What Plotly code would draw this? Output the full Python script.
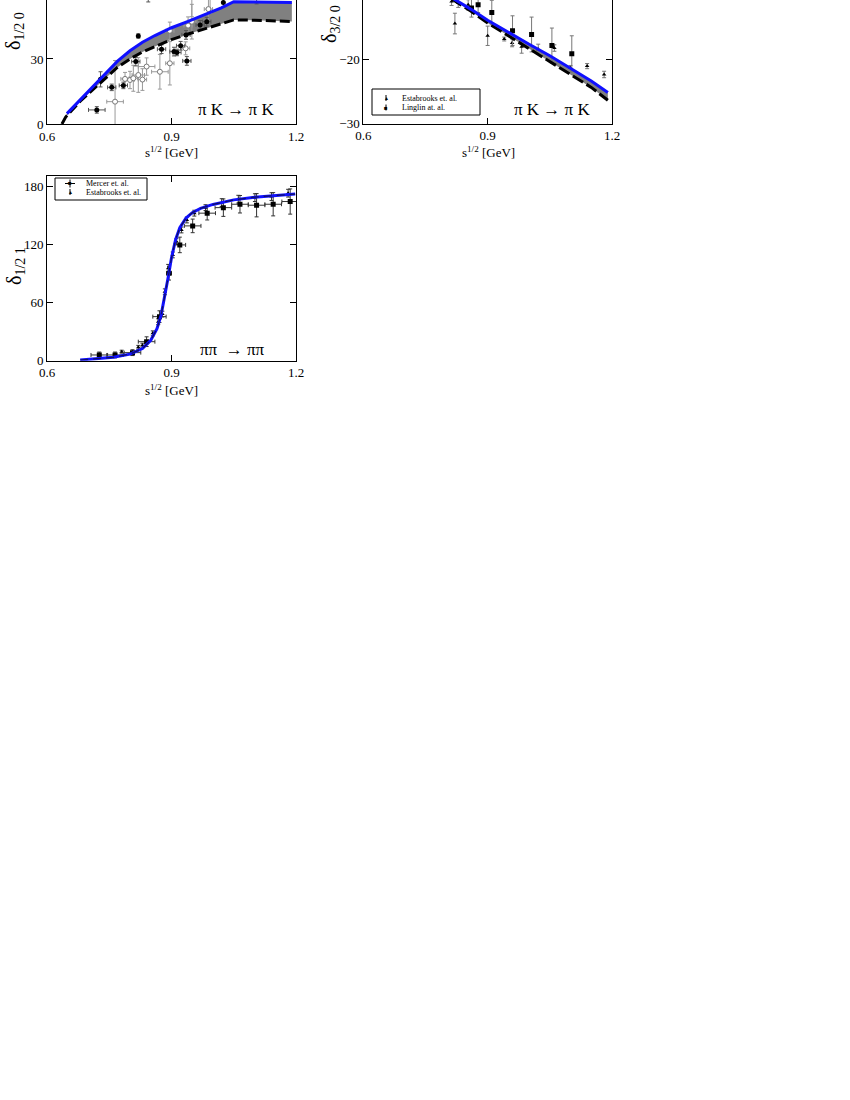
import plotly.graph_objects as go

# ============================================================
# Datos (tres paneles de desfasajes)
# ============================================================

ANCHO, ALTO = 850, 1100
SERIF = "Liberation Serif"

# --- Panel 1: delta 1/2 0, pi K -> pi K ---
P1_X_AZUL = [0.648, 0.68, 0.71, 0.74, 0.77, 0.80, 0.83, 0.86, 0.90, 0.94, 0.98, 1.02, 1.05, 1.10, 1.15, 1.19]
P1_Y_AZUL = [4.8, 11.2, 17.2, 23.2, 29.0, 33.8, 37.7, 40.8, 44.4, 47.3, 50.3, 53.6, 56.4, 56.4, 56.3, 56.1]
P1_X_DASH = [0.636, 0.645, 0.68, 0.71, 0.74, 0.77, 0.80, 0.83, 0.86, 0.90, 0.94, 0.98, 1.02, 1.05, 1.10, 1.15, 1.19]
P1_Y_DASH = [0.0, 3.2, 10.5, 15.8, 21.0, 26.2, 30.0, 33.2, 35.7, 38.9, 41.5, 43.9, 46.4, 48.0, 47.9, 47.6, 47.3]

P1_LLENOS_X = [0.720, 0.729, 0.756, 0.784, 0.814, 0.820, 0.876, 0.906, 0.913, 0.922, 0.937, 0.935, 0.969, 0.985, 1.025, 0.844, 1.105]
P1_LLENOS_Y = [6.5, 20.6, 16.9, 17.8, 28.8, 40.6, 34.5, 33.4, 33.0, 36.1, 29.1, 41.1, 45.7, 47.2, 56.0, 60.5, 59.0]
P1_LLENOS_EX = [0.02, 0.0, 0.01, 0.01, 0.01, 0.0, 0.01, 0.01, 0.01, 0.01, 0.01, 0.01, 0.01, 0.01, 0.0, 0.0, 0.0]
P1_LLENOS_EY = [1.5, 3.5, 1.5, 1.5, 2.0, 1.0, 2.0, 2.0, 1.5, 2.0, 2.0, 2.0, 2.0, 2.0, 2.0, 4.2, 3.6]

P1_ABIERTOS_X = [0.764, 0.788, 0.800, 0.808, 0.820, 0.830, 0.840, 0.872, 0.896, 0.896, 0.934, 0.940, 0.949, 0.989, 0.949, 0.993]
P1_ABIERTOS_Y = [10.3, 20.8, 20.3, 21.1, 22.6, 20.5, 26.5, 24.1, 28.0, 43.0, 34.9, 45.4, 47.2, 53.0, 62.0, 64.0]
P1_ABIERTOS_EX = [0.02, 0.01, 0.01, 0.01, 0.015, 0.01, 0.02, 0.02, 0.01, 0.01, 0.01, 0.01, 0.01, 0.01, 0.0, 0.0]
P1_ABIERTOS_EY = [19.0, 3.0, 4.0, 6.0, 8.0, 5.0, 4.0, 8.0, 10.0, 4.0, 3.0, 4.0, 8.0, 6.0, 12.5, 13.0]

# --- Panel 2: delta 3/2 0, pi K -> pi K ---
P2_X_AZUL = [0.78, 0.82, 0.86, 0.90, 0.95, 1.00, 1.05, 1.10, 1.15, 1.19]
P2_Y_AZUL = [-9.2, -10.7, -12.3, -14.0, -15.9, -17.7, -19.5, -21.4, -23.4, -25.2]
P2_X_DASH = [0.78, 0.82, 0.86, 0.90, 0.95, 1.00, 1.05, 1.10, 1.15, 1.19]
P2_Y_DASH = [-9.3, -10.9, -12.6, -14.4, -16.4, -18.4, -20.3, -22.4, -24.4, -26.4]

P2_ESTAB_X = [0.813, 0.821, 0.829, 0.853, 0.900, 0.940, 0.959, 0.982, 1.022, 1.061, 1.100, 1.140, 1.181]
P2_ESTAB_Y = [-11.1, -14.5, -11.3, -11.6, -16.4, -16.9, -17.5, -18.1, -18.5, -18.3, -21.4, -21.1, -22.4]
P2_ESTAB_EY = [0.6, 1.6, 0.7, 0.8, 1.5, 0.3, 0.6, 1.0, 0.8, 0.5, 0.4, 0.4, 0.5]

P2_LING_X = [0.861, 0.877, 0.910, 0.960, 1.006, 1.055, 1.103]
P2_LING_Y = [-12.1, -11.6, -12.8, -15.6, -16.2, -17.9, -19.2]
P2_LING_EY = [1.4, 1.2, 1.9, 2.3, 2.7, 2.7, 2.8]

# --- Panel 3: delta 1/2 1, pi pi -> pi pi ---
P3_X_CURVA = [0.68, 0.72, 0.76, 0.80, 0.83, 0.85, 0.865, 0.875, 0.885, 0.892, 0.90, 0.91, 0.92, 0.935, 0.95, 0.97, 1.00, 1.05, 1.10, 1.15, 1.198]
P3_Y_CURVA = [0.7, 1.8, 3.5, 6.8, 12.5, 21.0, 33.0, 47.0, 68.0, 86.0, 106.0, 125.0, 137.0, 147.0, 152.5, 157.0, 161.0, 165.7, 168.5, 170.3, 171.7]

P3_MERCER_X = [0.726, 0.764, 0.806, 0.840, 0.871, 0.894, 0.920, 0.951, 0.986, 1.025, 1.065, 1.105, 1.145, 1.186]
P3_MERCER_Y = [5.9, 5.9, 8.3, 19.6, 45.4, 90.1, 119.3, 138.9, 152.0, 157.7, 161.2, 160.2, 161.2, 164.0]
P3_MERCER_EX = [0.02, 0.02, 0.02, 0.02, 0.016, 0.006, 0.014, 0.02, 0.02, 0.02, 0.02, 0.02, 0.02, 0.02]
P3_MERCER_EY = [3, 3, 3, 5, 6, 7, 8, 7, 7, 9, 9, 12, 12, 13]

P3_ESTAB_X = [0.780, 0.820, 0.830, 0.855, 0.868, 0.878, 0.884, 0.892, 0.903, 0.912, 0.924, 0.937, 0.955, 0.982, 1.021, 1.061, 1.101, 1.141, 1.181]
P3_ESTAB_Y = [9.3, 13.8, 16.0, 28.2, 40.2, 48.0, 71.0, 95.2, 109.0, 122.7, 134.7, 145.0, 152.0, 157.7, 162.9, 166.4, 168.0, 169.1, 172.6]
P3_ESTAB_EY = [1.5, 2, 2, 2.5, 3, 3, 3, 4, 3, 3, 3, 3, 3, 3, 4, 4, 4, 4, 4]

X_TICKS = [0.6, 0.9, 1.2]
X_TICKTEXT = ["0.6", "0.9", "1.2"]


# ============================================================
# Utilidades de posición (píxeles -> coordenadas de papel)
# ============================================================

def px(x):
    return x / ANCHO


def py(y):
    return 1 - y / ALTO


def eje(dominio, rango, ticks, mirror, ancla, ticktext=None):
    d = dict(
        domain=dominio, range=rango, tickvals=ticks, anchor=ancla,
        ticks="inside", ticklen=6, tickwidth=1, tickcolor="black",
        showline=True, linecolor="black", linewidth=1, mirror=mirror,
        showgrid=False, zeroline=False, automargin=False,
        tickfont=dict(family=SERIF, size=13, color="black"),
    )
    if ticktext is not None:
        d["ticktext"] = ticktext
    return d


fig = go.Figure()

# ============================================================
# PANEL 1
# ============================================================
fig.add_trace(go.Scatter(x=P1_X_DASH, y=P1_Y_DASH, mode="lines", line=dict(width=0),
                         hoverinfo="skip", xaxis="x", yaxis="y"))
fig.add_trace(go.Scatter(x=P1_X_AZUL, y=P1_Y_AZUL, mode="lines", line=dict(width=0),
                         fill="tonexty", fillcolor="#808080", hoverinfo="skip", xaxis="x", yaxis="y"))
fig.add_trace(go.Scatter(
    x=P1_ABIERTOS_X, y=P1_ABIERTOS_Y, mode="markers",
    marker=dict(symbol="circle", size=5, color="white", line=dict(width=1, color="#777777")),
    error_x=dict(type="data", array=P1_ABIERTOS_EX, color="#999999", thickness=1, width=2),
    error_y=dict(type="data", array=P1_ABIERTOS_EY, color="#999999", thickness=1, width=2),
    xaxis="x", yaxis="y",
))
fig.add_trace(go.Scatter(
    x=P1_LLENOS_X, y=P1_LLENOS_Y, mode="markers",
    marker=dict(symbol="circle", size=5, color="black"),
    error_x=dict(type="data", array=P1_LLENOS_EX, color="#555555", thickness=1, width=2),
    error_y=dict(type="data", array=P1_LLENOS_EY, color="#555555", thickness=1, width=2),
    xaxis="x", yaxis="y",
))
fig.add_trace(go.Scatter(x=P1_X_DASH, y=P1_Y_DASH, mode="lines",
                         line=dict(color="black", width=3, dash="10px,4px"), xaxis="x", yaxis="y"))
fig.add_trace(go.Scatter(x=P1_X_AZUL, y=P1_Y_AZUL, mode="lines",
                         line=dict(color="#1010ff", width=3), xaxis="x", yaxis="y"))

# ============================================================
# PANEL 2
# ============================================================
fig.add_trace(go.Scatter(x=P2_X_DASH, y=P2_Y_DASH, mode="lines", line=dict(width=0),
                         hoverinfo="skip", xaxis="x2", yaxis="y2"))
fig.add_trace(go.Scatter(x=P2_X_AZUL, y=P2_Y_AZUL, mode="lines", line=dict(width=0),
                         fill="tonexty", fillcolor="#808080", hoverinfo="skip", xaxis="x2", yaxis="y2"))
fig.add_trace(go.Scatter(
    x=P2_ESTAB_X, y=P2_ESTAB_Y, mode="markers",
    marker=dict(symbol="triangle-up", size=4, color="black"),
    error_y=dict(type="data", array=P2_ESTAB_EY, color="#777777", thickness=1, width=2),
    xaxis="x2", yaxis="y2",
))
fig.add_trace(go.Scatter(
    x=P2_LING_X, y=P2_LING_Y, mode="markers",
    marker=dict(symbol="square", size=5, color="black"),
    error_y=dict(type="data", array=P2_LING_EY, color="#777777", thickness=1, width=2),
    xaxis="x2", yaxis="y2",
))
fig.add_trace(go.Scatter(x=P2_X_DASH, y=P2_Y_DASH, mode="lines",
                         line=dict(color="black", width=3, dash="12px,4px"), xaxis="x2", yaxis="y2"))
fig.add_trace(go.Scatter(x=P2_X_AZUL, y=P2_Y_AZUL, mode="lines",
                         line=dict(color="#1010ff", width=3), xaxis="x2", yaxis="y2"))

# ============================================================
# PANEL 3
# ============================================================
fig.add_trace(go.Scatter(
    x=P3_ESTAB_X, y=P3_ESTAB_Y, mode="markers",
    marker=dict(symbol="triangle-up", size=4, color="black"),
    error_y=dict(type="data", array=P3_ESTAB_EY, color="#333333", thickness=1, width=2),
    xaxis="x3", yaxis="y3",
))
fig.add_trace(go.Scatter(
    x=P3_MERCER_X, y=P3_MERCER_Y, mode="markers",
    marker=dict(symbol="square", size=5, color="black"),
    error_x=dict(type="data", array=P3_MERCER_EX, color="#333333", thickness=1, width=2),
    error_y=dict(type="data", array=P3_MERCER_EY, color="#333333", thickness=1, width=2),
    xaxis="x3", yaxis="y3",
))
fig.add_trace(go.Scatter(x=P3_X_CURVA, y=P3_Y_CURVA, mode="lines",
                         line=dict(color="#1010ff", width=3), xaxis="x3", yaxis="y3"))
fig.add_trace(go.Scatter(x=P3_X_CURVA, y=P3_Y_CURVA, mode="lines",
                         line=dict(color="#101060", width=1.2, dash="8px,5px"), xaxis="x3", yaxis="y3"))

# ============================================================
# Textos y leyendas manuales
# ============================================================
anots = []


def texto(x, y, t, size, angle=0, xanchor="center"):
    anots.append(dict(x=px(x), y=py(y), xref="paper", yref="paper", text=t, showarrow=False,
                      textangle=angle, xanchor=xanchor, yanchor="middle",
                      font=dict(family=SERIF, size=size, color="black")))


# títulos de ejes
texto(14, 31, "δ<sub>1/2 0</sub>", 20, angle=-90)
texto(330, 24, "δ<sub>3/2 0</sub>", 20, angle=-90)
texto(15, 266, "δ<sub>1/2 1</sub>", 20, angle=-90)
texto(171, 152, "s<sup>1/2</sup> [GeV]", 13)
texto(488, 152, "s<sup>1/2</sup> [GeV]", 13)
texto(171, 390, "s<sup>1/2</sup> [GeV]", 13)

# procesos
texto(236, 110, "π K → π K", 17)
texto(552, 110, "π K → π K", 17)
texto(232, 349, "ππ  → ππ", 17)

# leyenda panel 2
texto(400, 98, "Estabrooks et. al.", 8, xanchor="left")
texto(400, 107.5, "Linglin at. al.", 8, xanchor="left")
texto(386, 98, "▲", 5)
texto(386, 107.5, "■", 6)
# leyenda panel 3
texto(84, 183.5, "Mercer et. al.", 8, xanchor="left")
texto(84, 192, "Estabrooks et. al.", 8, xanchor="left")
texto(70, 183.5, "■", 6)
texto(70, 192, "▲", 5)

formas = [
    dict(type="rect", xref="paper", yref="paper", x0=px(372), x1=px(480), y0=py(89), y1=py(115),
         line=dict(color="black", width=1), fillcolor="white", layer="above"),
    dict(type="rect", xref="paper", yref="paper", x0=px(55), x1=px(147), y0=py(178), y1=py(200),
         line=dict(color="black", width=1), fillcolor="white", layer="above"),
]
for (xc, yc, h) in [(386, 98, 3), (386, 107.5, 3), (70, 183.5, 4), (70, 192, 3)]:
    formas.append(dict(type="line", xref="paper", yref="paper", x0=px(xc), x1=px(xc),
                       y0=py(yc - h), y1=py(yc + h), line=dict(color="black", width=1), layer="above"))
formas.append(dict(type="line", xref="paper", yref="paper", x0=px(65), x1=px(75),
                   y0=py(183.5), y1=py(183.5), line=dict(color="black", width=1), layer="above"))

fig.update_layout(
    width=ANCHO, height=ALTO, autosize=False,
    margin=dict(l=0, r=0, t=0, b=0, pad=0),
    paper_bgcolor="white", plot_bgcolor="white",
    showlegend=False,
    xaxis=eje([px(47), px(296)], [0.6, 1.2], X_TICKS, False, "y", X_TICKTEXT),
    yaxis=eje([py(124), 1.0], [0, 57.2], [0, 30], "ticks", "x"),
    xaxis2=eje([px(363.3), px(612)], [0.6, 1.2], X_TICKS, False, "y2", X_TICKTEXT),
    yaxis2=eje([py(123.5), 1.0], [-30, -10.85], [-30, -20], "ticks", "x2"),
    xaxis3=eje([px(47), px(296)], [0.6, 1.2], X_TICKS, "ticks", "y3", X_TICKTEXT),
    yaxis3=eje([py(360.7), py(176)], [0, 190.3], [0, 60, 120, 180], "ticks", "x3"),
    annotations=anots,
    shapes=formas,
)

# la página trae un margen de 8px en <body>; se quita para alinear la figura al borde
fig.write_html("out.html", config={"displayModeBar": False},
               post_script="document.body.style.margin = '0';")
